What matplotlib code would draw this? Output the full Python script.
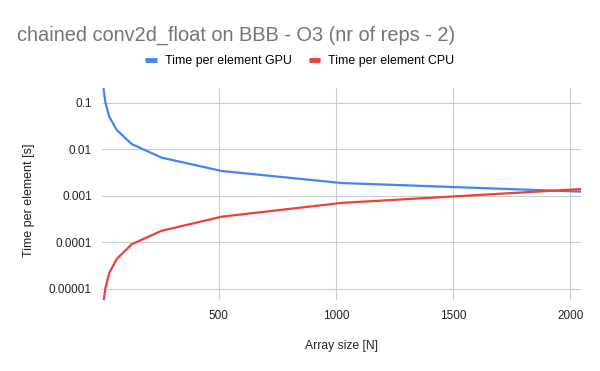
import matplotlib
matplotlib.use("Agg")
import matplotlib.pyplot as plt
from matplotlib.lines import Line2D

plt.rcParams["font.family"] = ["Liberation Sans", "DejaVu Sans"]

# array sizes (powers of two) and measured times per element
array_size = [1, 2, 4, 8, 16, 32, 64, 128, 256, 512, 1024, 2048]
gpu_time = [1.6, 0.8, 0.4, 0.2, 0.1, 0.051, 0.0263, 0.0131, 0.00667, 0.00345, 0.0019, 0.00124]
cpu_time = [7e-7, 1.4e-6, 2.8e-6, 5.5e-6, 1.05e-5, 2.18e-5, 4.42e-5, 9.15e-5, 1.79e-4, 3.59e-4, 7.1e-4, 1.41e-3]

series_names = ["Time per element GPU", "Time per element CPU"]
colors = ["#4285F4", "#EA4335"]

yticks = [0.1, 0.01, 0.001, 0.0001, 0.00001]
ytick_labels = ["0.1", "0.01", "0.001", "0.0001", "0.00001"]
xticks = [500, 1000, 1500, 2000]

fig = plt.figure(figsize=(6, 3.71), dpi=100)
ax = fig.add_axes([0.1695, 0.1914, 0.7985, 0.5714])

ax.plot(array_size, gpu_time, color=colors[0], lw=1.6, solid_joinstyle="round")
ax.plot(array_size, cpu_time, color=colors[1], lw=1.6, solid_joinstyle="round")

ax.set_yscale("log")
ax.set_ylim(5.8e-6, 0.21)
ax.set_xlim(0, 2045)
ax.set_yticks(yticks)
ax.set_yticklabels(ytick_labels)
ax.minorticks_off()
ax.set_xticks(xticks)
ax.set_xticklabels([str(t) for t in xticks])

ax.grid(True, color="#cccccc", lw=0.8)
ax.set_axisbelow(True)
for s in ax.spines.values():
    s.set_visible(False)
ax.tick_params(length=0, labelsize=8.5, colors="#222222", pad=7)
ax.tick_params(axis="y", pad=7)

ax.set_xlabel("Array size [N]", fontsize=8.7, color="#222222", labelpad=13)
ax.set_ylabel("Time per element [s]", fontsize=9, color="#222222")
ax.yaxis.set_label_coords(-0.14, 0.47)

fig.text(0.028, 0.905, "chained conv2d_float on BBB - O3 (nr of reps - 2)",
         fontsize=14.4, color="#757575", va="center", ha="left")

handles = [Line2D([], [], color=c, lw=3.5, solid_capstyle="butt") for c in colors]
fig.legend(handles, series_names, loc="center", bbox_to_anchor=(0.5, 0.836),
           ncol=2, frameon=False, fontsize=8.9, handlelength=0.95,
           handletextpad=0.65, columnspacing=1.35)

fig.savefig("out.png", dpi=100)
